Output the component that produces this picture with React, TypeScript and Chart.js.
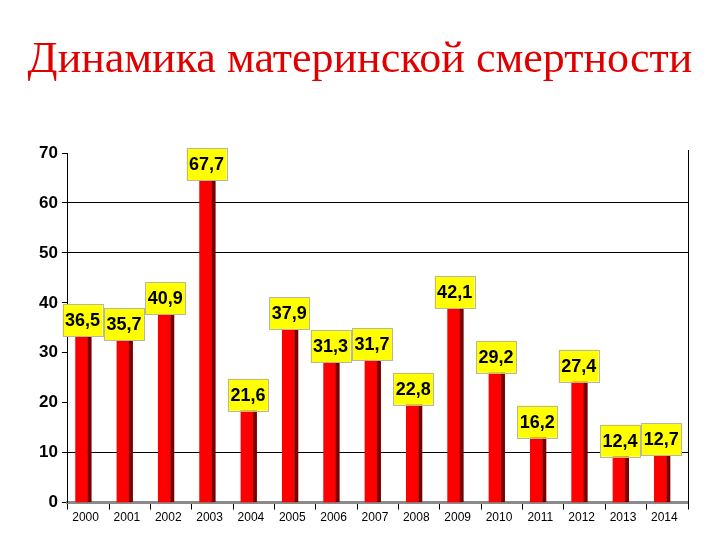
import React, { useEffect, useRef } from "react";
import { Chart, registerables } from "chart.js";

Chart.register(...registerables);

const TITLE = "Динамика материнской смертности";
const years = ["2000", "2001", "2002", "2003", "2004", "2005", "2006", "2007", "2008", "2009", "2010", "2011", "2012", "2013", "2014"];
const values = [36.5, 35.7, 40.9, 67.7, 21.6, 37.9, 31.3, 31.7, 22.8, 42.1, 29.2, 16.2, 27.4, 12.4, 12.7];
const yTicks = [0, 10, 20, 30, 40, 50, 60, 70];
const visibleGrid = [10, 50, 60];
const DEPTH_SHIFT = -7; // pseudo-3D offset of the bars toward the viewer

const fmt = (v: number) => v.toFixed(1).replace(".", ",");

const decorPlugin = {
  id: "decor",
  afterDatasetsUpdate(chart: any) {
    const meta = chart.getDatasetMeta(0);
    const xScale = chart.scales.x;
    meta.data.forEach((el: any, i: number) => {
      el.x = xScale.getPixelForValue(i) + DEPTH_SHIFT;
    });
  },
  afterDatasetsDraw(chart: any) {
    const ctx = chart.ctx;
    const meta = chart.getDatasetMeta(0);
    const yScale = chart.scales.y;
    const area = chart.chartArea;
    ctx.save();
    // right border line
    ctx.strokeStyle = "#000";
    ctx.lineWidth = 1;
    ctx.beginPath();
    ctx.moveTo(area.right + 0.5, area.top - 3);
    ctx.lineTo(area.right + 0.5, area.bottom + 6);
    ctx.stroke();
    meta.data.forEach((el: any, i: number) => {
      const half = el.width / 2;
      // 3D side
      ctx.fillStyle = "#7a0000";
      ctx.fillRect(el.x + half, el.y + 1, 4, el.base - el.y - 1);
      // label box
      const v = values[i];
      const cy = yScale.getPixelForValue(v);
      const cx = el.x + 1;
      const w = 40, h = 32;
      ctx.fillStyle = "#FFFF00";
      ctx.fillRect(cx - w / 2, cy - h / 2, w, h);
      ctx.strokeStyle = "#b8b8a0";
      ctx.lineWidth = 1;
      ctx.strokeRect(Math.round(cx - w / 2) + 0.5, Math.round(cy - h / 2) + 0.5, w, h);
      ctx.fillStyle = "#000";
      ctx.font = "bold 18px 'Liberation Sans', Arial, sans-serif";
      ctx.textAlign = "center";
      ctx.textBaseline = "middle";
      ctx.fillText(fmt(v), cx, cy + 1);
    });
    ctx.restore();
  },
  afterDraw(chart: any) {
    const ctx = chart.ctx;
    ctx.save();
    ctx.fillStyle = "#E10000";
    ctx.font = "44px 'Liberation Serif', 'Times New Roman', serif";
    ctx.textAlign = "center";
    ctx.textBaseline = "alphabetic";
    ctx.fillText(TITLE, 360, 72);
    ctx.restore();
  },
};

export default function App() {
  const ref = useRef<HTMLCanvasElement>(null);
  useEffect(() => {
    if (!ref.current) return;
    const chart = new Chart(ref.current, {
      type: "bar",
      data: {
        labels: years,
        datasets: [
          {
            data: values,
            backgroundColor: "#FF0000",
            barThickness: 12,
            borderWidth: 0,
          },
        ],
      },
      options: {
        animation: false,
        responsive: false,
        maintainAspectRatio: false,
        layout: { padding: { top: 153, left: 35, right: 32, bottom: 14 } },
        plugins: {
          legend: { display: false },
          tooltip: { enabled: false },
          title: { display: false },
        },
        scales: {
          x: {
            grid: {
              display: true,
              offset: true,
              drawOnChartArea: false,
              drawTicks: true,
              tickLength: 7,
              tickColor: "#000",
            },
            border: { display: true, color: "#8a8a8a", width: 3 },
            ticks: {
              color: "#000",
              font: { family: "'Liberation Sans', Arial, sans-serif", size: 12 },
              padding: 1,
              maxRotation: 0,
              labelOffset: -3,
            },
          },
          y: {
            min: 0,
            max: 70,
            afterBuildTicks(scale: any) {
              scale.ticks = yTicks.map((v) => ({ value: v }));
            },
            grid: {
              color: (c: any) => (visibleGrid.includes(c.tick?.value) ? "#000" : "rgba(0,0,0,0)"),
              tickColor: "#000",
              tickLength: 6,
              lineWidth: 1,
            },
            border: { display: true, color: "#000", width: 1 },
            ticks: {
              color: "#000",
              font: { family: "'Liberation Sans', Arial, sans-serif", size: 17, weight: "bold" },
              padding: 4,
            },
          },
        },
      },
      plugins: [decorPlugin],
    });
    return () => chart.destroy();
  }, []);
  return (
    <div style={{ position: "fixed", left: 0, top: 0, width: 720, height: 540, background: "#fff" }}>
      <canvas ref={ref} width={720} height={540} style={{ width: 720, height: 540 }} />
    </div>
  );
}
